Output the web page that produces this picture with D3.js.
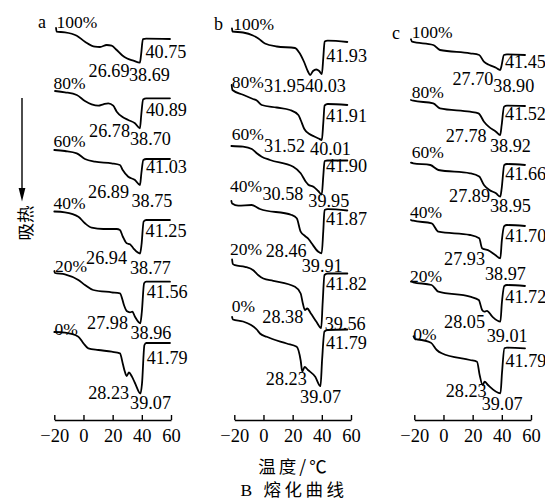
<!DOCTYPE html>
<html>
<head>
<meta charset="utf-8">
<script src="https://cdn.jsdelivr.net/npm/d3@7"></script>
<style>
  body { margin: 0; background: #fff; }
  text { fill: #000; }
  .serif { font-family: "Liberation Serif", "DejaVu Serif", serif; }
  .cjk { font-family: "Noto Sans CJK SC", "Noto Sans CJK JP", sans-serif; }
</style>
</head>
<body>
<svg id="chart" width="545" height="500"></svg>
<script>
// ---- data -------------------------------------------------------------
const contentLabels = ["100%", "80%", "60%", "40%", "20%", "0%"];
const temperatureTicks = [-20, 0, 20, 40, 60];

// panel a: onset shoulder, peak and end temperatures (°C)
const aOnset = [26.69, 26.78, 26.89, 26.94, 27.98, 28.23];
const aPeak  = [38.69, 38.70, 38.75, 38.77, 38.96, 39.07];
const aEnd   = [40.75, 40.89, 41.03, 41.25, 41.56, 41.79];
// heat flow at those temperatures, relative to each trace's start
const aOnsetFlow = [-2.38, -2.6, -2.0, -2.5, -3.3, -3.9];
const aPeakFlow  = [-3.1, -3.73, -3.5, -4.2, -5.03, -6.15];
const aEndFlow   = [-0.75, -0.85, -1.0, -1.0, -1.03, -1.3];
const aOffsets   = [0, -5.93, -11.83, -17.98, -24.13, -30.03];
const aTraces = [
  [[-18.8,0.37],[-18.4,0],[-12.7,-0.06],[-4.6,-0.4],[1.0,-1.0],[7.9,-1.5],[11.3,-1.53],[15.9,-1.33],[19.3,-1.4],[22.8,-1.83],[29.6,-2.66],[34.2,-2.9],[39.5,-2.3],[43.0,-0.7],[59.3,-0.73]],
  [[-19.5,0],[-12.7,-0.13],[-4.6,-0.4],[1.0,-1.0],[5.6,-1.33],[10.2,-1.47],[13.6,-1.33],[17.0,-1.23],[20.4,-1.47],[22.8,-2.07],[30.7,-2.9],[35.3,-3.23],[39.6,-2.4],[43.0,-0.73],[59.3,-0.73]],
  [[-20,0],[-12.7,-0.1],[-4.6,-0.33],[1.0,-0.9],[7.9,-1.17],[19.3,-1.33],[25.0,-1.5],[30.7,-2.67],[35.3,-3.0],[39.7,-2.3],[43.0,-0.9],[59.3,-0.9]],
  [[-20,0],[-12.7,-0.08],[-3.5,-0.52],[1.0,-1.18],[5.6,-1.62],[13.6,-1.75],[22.8,-1.75],[25.0,-1.85],[29.6,-3.18],[31.9,-3.28],[34.2,-3.68],[39.8,-3.3],[43.0,-0.85],[59.3,-0.85]],
  [[-20,0.2],[-19.5,0],[-12.7,-0.13],[-3.5,-0.7],[1.0,-1.2],[6.7,-1.7],[19.3,-1.93],[25.0,-2.03],[29.6,-3.8],[31.9,-3.93],[33.5,-3.87],[35.3,-4.37],[40.0,-3.9],[43.0,-0.87],[59.3,-0.87]],
  [[-20,0],[-12.7,-0.07],[-3.5,-0.47],[0,-1.13],[3.3,-1.63],[10.2,-1.8],[19.3,-1.97],[25.0,-2.13],[27.0,-3.2],[29.6,-4.4],[31.2,-4.05],[33.0,-4.4],[35.3,-5.1],[40.1,-5.2],[43.0,-1.1],[59.3,-1.1]]
];

// panel b
const bOnset = [31.95, 31.52, 30.58, 28.46, 28.38, 28.23];
const bPeak  = [40.03, 40.01, 39.95, 39.91, 39.56, 39.07];
const bEnd   = [41.93, 41.91, 41.90, 41.87, 41.82, 41.79];
const bOnsetFlow = [-4.35, -4.4, -3.85, -3.3, -4.6, -4.75];
const bPeakFlow  = [-4.25, -5.0, -4.85, -5.03, -6.4, -6.67];
const bEndFlow   = [-1.0, -1.55, -1.5, -0.7, -1.1, -1.2];
const bOffsets   = [0, -5.85, -11.45, -17.15, -23.25, -28.8];
const bTraces = [
  [[-21.6,0.32],[-21.2,0],[-14.0,-0.1],[-7.2,-0.4],[-3.5,-0.7],[1.0,-1.2],[9.1,-1.5],[21.6,-1.65],[24.5,-2.1],[27.7,-3.0],[30.5,-4.0],[34.0,-3.95],[36.2,-3.8],[38.2,-3.95],[41.0,-2.65],[44.0,-0.92],[57.5,-1.05]],
  [[-21.8,0.5],[-21.3,0],[-14.0,-0.48],[-7.2,-0.9],[-4.6,-1.05],[-1.2,-1.5],[9.1,-1.75],[18.2,-2.0],[23.9,-2.5],[25.5,-3.0],[28.0,-3.9],[34.8,-4.65],[37.8,-4.85],[41.0,-3.3],[44.0,-1.4],[57.5,-1.5]],
  [[-22,0],[-14,-0.07],[-8,-0.3],[-4.6,-0.73],[-1.2,-1.07],[4.5,-1.4],[20.4,-2.07],[25.5,-2.73],[29.0,-3.57],[34.5,-4.1],[37.5,-4.5],[41.0,-3.0],[44.0,-1.45],[57.5,-1.45]],
  [[-22,0.2],[-21.5,-0.05],[-17.3,-0.27],[-8.1,-0.2],[-2.4,-0.6],[19.3,-1.2],[22.8,-1.53],[25.5,-2.87],[30.5,-3.53],[33.0,-4.03],[37.6,-4.87],[41.0,-2.8],[44.0,-0.62],[57.5,-0.75]],
  [[-21.5,0.45],[-21,0],[-19.5,-0.12],[-12.7,-0.28],[-7,-0.62],[-3.5,-1.12],[-0.1,-1.45],[6.7,-1.68],[21.6,-2.28],[25.5,-2.95],[27.0,-3.95],[30.0,-4.45],[32.5,-4.95],[36.3,-5.78],[40.6,-3.8],[44.0,-0.95],[57.5,-0.95]],
  [[-21.5,0.25],[-21,0],[-14,-0.2],[-8.5,-0.56],[-4.6,-1.0],[-2.4,-1.4],[2.2,-1.73],[15.9,-2.4],[22.8,-2.73],[25.5,-4.1],[26.6,-5.2],[30.5,-5.05],[35.5,-5.73],[40.2,-4.0],[44.0,-1.05],[57.5,-1.0]]
];

// panel c
const cOnset = [27.70, 27.78, 27.89, 27.93, 28.05, 28.23];
const cPeak  = [38.90, 38.92, 38.95, 38.97, 39.01, 39.07];
const cEnd   = [41.45, 41.52, 41.66, 41.70, 41.72, 41.79];
const cOnsetFlow = [-2.0, -2.1, -2.2, -2.85, -2.94, -4.24];
const cPeakFlow  = [-2.83, -3.43, -3.33, -3.76, -3.94, -5.4];
const cEndFlow   = [-1.33, -0.6, -0.17, -0.53, -0.37, -0.9];
const cOffsets   = [0, -5.9, -12.16, -17.9, -24.06, -29.76];
const cTraces = [
  [[-22.3,0.24],[-21.5,0],[-7.0,-0.33],[-2.4,-0.83],[18.2,-1.16],[24.5,-1.33],[31.5,-2.33],[36.0,-2.6],[39.8,-2.4],[43.5,-1.27],[55.9,-1.33]],
  [[-22.3,0.07],[-20.7,0],[-7.0,-0.26],[-2.4,-0.76],[18.2,-1.1],[24.0,-1.26],[31.0,-2.6],[36.0,-3.1],[39.9,-2.43],[43.5,-0.5],[55.9,-0.53]],
  [[-22.3,0.06],[-20.7,0],[-9.0,-0.17],[-3.5,-0.67],[18.2,-1.0],[24.5,-1.33],[31.5,-2.67],[36.0,-3.0],[39.9,-2.5],[43.5,-0.07],[55.9,-0.17]],
  [[-22.3,0.07],[-20.7,0],[-8.1,-0.26],[-3.5,-1.1],[18.2,-1.43],[24.5,-1.76],[26.5,-2.76],[30.5,-2.95],[35.5,-3.43],[40.0,-2.0],[43.5,-0.43],[55.9,-0.53]],
  [[-22.3,0.06],[-20.7,0],[-8.1,-0.27],[-3.5,-0.94],[18.2,-1.44],[24.2,-1.77],[26.5,-2.77],[29.8,-2.85],[33.5,-3.44],[40.0,-2.1],[43.5,-0.27],[55.9,-0.37]],
  [[-20.5,0.3],[-19.3,0],[-17.7,-0.02],[-8.6,-0.34],[-4.6,-1.07],[-1.2,-1.4],[18.2,-2.07],[23.0,-2.24],[24.8,-3.57],[26.8,-4.57],[30.5,-4.57],[40.1,-3.4],[43.5,-0.84],[55.9,-0.9]]
];

// ---- layout -----------------------------------------------------------
const svg = d3.select("#chart");
const axisY = 420;

// label offsets (px) from: trace start, peak point, peak point, end point
const panels = [
  {
    letter: "a", letterPos: [38, 28], left: 54.3, top: 31.7,
    onset: aOnset, peak: aPeak, end: aEnd,
    onsetFlow: aOnsetFlow, peakFlow: aPeakFlow, endFlow: aEndFlow,
    offsets: aOffsets, traces: aTraces,
    nudge: [
      {pct: [0.5, -4],   on: [-10.4, 14.3], pk: [-10.9, 18.3], end: [2.6, 18.8]},
      {pct: [-1.5, -2],  on: [-9.9, 8.7],   pk: [-9.9, 16.7],  end: [2.9, 16.5]},
      {pct: [-0.8, -3.3],on: [-11, 12.5],   pk: [-8.5, 21.5],  end: [2.7, 12.5]},
      {pct: [-0.8, -2.5],on: [-13, 10.5],   pk: [-10, 20.5],   end: [1.9, 15]},
      {pct: [0.7, -1.3], on: [-12.3, 5.7],  pk: [-9.8, 15.7],  end: [2.6, 14.7]},
      {pct: [0.2, 3],    on: [-11.4, 5.5],  pk: [-10.4, 15.5], end: [2.3, 19]}
    ]
  },
  {
    letter: "b", letterPos: [214, 30], left: 234.3, top: 31.5,
    onset: bOnset, peak: bPeak, end: bEnd,
    onsetFlow: bOnsetFlow, peakFlow: bPeakFlow, endFlow: bEndFlow,
    offsets: bOffsets, traces: bTraces,
    nudge: [
      {pct: [1.3, -1.5],  on: [-16.9, 17.7], pk: [-16.9, 17.7], end: [1.5, 20]},
      {pct: [0, -1.7],    on: [-16.8, 11.7], pk: [-11.8, 15],   end: [1.5, 16.5]},
      {pct: [0.3, -6],    on: [-18.4, 5.5],  pk: [-13.4, 12.2], end: [1.5, 11]},
      {pct: [-1.4, -11.3],on: [-15, 3.4],    pk: [-20, 18.4],   end: [1.5, 15]},
      {pct: [-2.1, -9],   on: [-17.9, -4.7], pk: [3.5, 2],      end: [1.5, 15]},
      {pct: [-0.4, -7.8], on: [-13.7, -1.2], pk: [-20.4, 17.1], end: [1.5, 17]}
    ]
  },
  {
    letter: "c", letterPos: [392, 39], left: 414.3, top: 41.7,
    onset: cOnset, peak: cPeak, end: cEnd,
    onsetFlow: cOnsetFlow, peakFlow: cPeakFlow, endFlow: cEndFlow,
    offsets: cOffsets, traces: cTraces,
    nudge: [
      {pct: [0.7, -3.4], on: [-6.9, 15],   pk: [-6.9, 21.7],  end: [1.0, 13.3]},
      {pct: [0.7, -2.4], on: [-13.6, 6.7], pk: [-10.3, 16.7], end: [1.0, 13.3]},
      {pct: [0.7, -5],   on: [-10.3, 5.1], pk: [-10.3, 15.1], end: [1.0, 15]},
      {pct: [-1, -2.4],  on: [-15.3, 6.7], pk: [-15.3, 21.7], end: [1.0, 15.7]},
      {pct: [-1, -0.6],  on: [-15.4, 6.6], pk: [-13.7, 20],   end: [1.0, 17.3]},
      {pct: [-0.3, 0.7], on: [-13.8, 3.4], pk: [-18.8, 16.7], end: [1.0, 18.4]}
    ]
  }
];

const fmt = d3.format(".2f");

panels.forEach(p => {
  const x = d3.scaleLinear().domain([-20, 60]).range([p.left, p.left + 116.7]);
  // heat flow: 10 px per unit, endotherms point down
  const y = d3.scaleLinear().domain([0, -40]).range([p.top, p.top + 400]);
  const g = svg.append("g");

  g.append("text").attr("class", "serif")
    .attr("x", p.letterPos[0]).attr("y", p.letterPos[1])
    .attr("font-size", 18)
    .text(p.letter);

  p.traces.forEach((trace, i) => {
    const off = p.offsets[i];
    const keyPts = [
      [p.onset[i], p.onsetFlow[i]],
      [p.peak[i], p.peakFlow[i]],
      [p.end[i], p.endFlow[i]]
    ];
    const pts = trace.concat(keyPts).sort((u, v) => u[0] - v[0]);

    const line = d3.line()
      .x(d => x(d[0]))
      .y(d => y(d[1] + off))
      .curve(d3.curveMonotoneX);

    g.append("path")
      .attr("d", line(pts))
      .attr("fill", "none")
      .attr("stroke", "#000")
      .attr("stroke-width", 1.8)
      .attr("stroke-linejoin", "round")
      .attr("stroke-linecap", "round");

    const n = p.nudge[i];
    const start = [x(trace[0][0]), y(off)];
    const pk = [x(p.peak[i]), y(p.peakFlow[i] + off)];
    const en = [x(p.end[i]), y(p.endFlow[i] + off)];

    g.append("text").attr("class", "serif")
      .attr("x", start[0] + n.pct[0]).attr("y", start[1] + n.pct[1])
      .attr("font-size", 17.5)
      .text(contentLabels[i]);

    g.append("text").attr("class", "serif")
      .attr("x", pk[0] + n.on[0]).attr("y", pk[1] + n.on[1])
      .attr("text-anchor", "end")
      .attr("font-size", 18.2)
      .text(fmt(p.onset[i]));

    g.append("text").attr("class", "serif")
      .attr("x", pk[0] + n.pk[0]).attr("y", pk[1] + n.pk[1])
      .attr("font-size", 18.2)
      .text(fmt(p.peak[i]));

    g.append("text").attr("class", "serif")
      .attr("x", en[0] + n.end[0]).attr("y", en[1] + n.end[1])
      .attr("font-size", 18.2)
      .text(fmt(p.end[i]));
  });

  const ax = g.append("g")
    .attr("transform", `translate(0,${axisY})`)
    .call(d3.axisBottom(x)
      .tickValues(temperatureTicks)
      .tickSizeInner(-5)
      .tickSizeOuter(0)
      .tickPadding(9));
  ax.attr("font-family", null).attr("font-size", null);
  ax.select(".domain").attr("stroke", "#000").attr("stroke-width", 1.4);
  ax.selectAll(".tick line").attr("stroke", "#000").attr("stroke-width", 1.4);
  ax.selectAll(".tick text")
    .attr("class", "serif").attr("font-size", 18.5).attr("fill", "#000");
});

// endotherm direction arrow and its label
svg.append("line")
  .attr("x1", 22).attr("y1", 98).attr("x2", 22).attr("y2", 190)
  .attr("stroke", "#000").attr("stroke-width", 1.4);
svg.append("path")
  .attr("d", d3.line()([[18.6, 188], [25.4, 188], [22, 201.5]]) + "Z")
  .attr("fill", "#000");
svg.append("text").attr("class", "cjk")
  .attr("transform", "translate(32,223) rotate(-90)")
  .attr("text-anchor", "middle")
  .attr("font-size", 17.5)
  .text("吸热");

// axis title and figure caption
svg.append("text").attr("class", "cjk")
  .attr("x", 294).attr("y", 472.5)
  .attr("text-anchor", "middle")
  .attr("font-size", 17.5)
  .attr("letter-spacing", 3)
  .text("温度/℃");
const caption = svg.append("text").attr("class", "cjk")
  .attr("x", 294).attr("y", 496)
  .attr("text-anchor", "middle")
  .attr("font-size", 17.5)
  .attr("letter-spacing", 3.5);
caption.append("tspan").attr("class", "serif").text("B ");
caption.append("tspan").text("熔化曲线");
</script>
</body>
</html>
